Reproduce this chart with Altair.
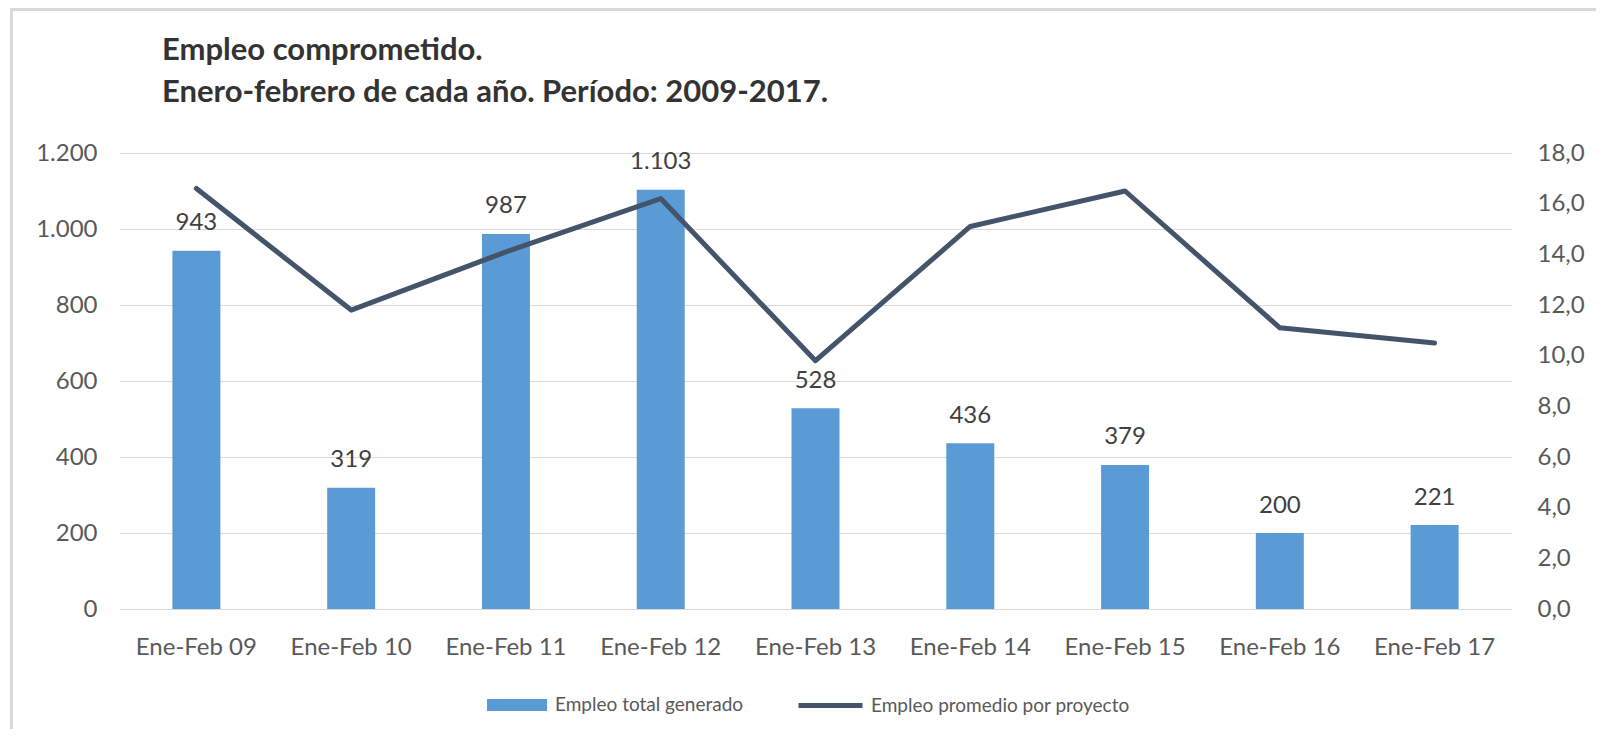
import altair as alt
import pandas as pd

categories = ["Ene-Feb 09", "Ene-Feb 10", "Ene-Feb 11", "Ene-Feb 12", "Ene-Feb 13",
              "Ene-Feb 14", "Ene-Feb 15", "Ene-Feb 16", "Ene-Feb 17"]
empleo_total = [943, 319, 987, 1103, 528, 436, 379, 200, 221]
empleo_promedio = [16.6, 11.8, 14.1, 16.2, 9.8, 15.1, 16.5, 11.1, 10.5]

bar_name = "Empleo total generado"
line_name = "Empleo promedio por proyecto"

df = pd.DataFrame({
    "cat": categories,
    "total": empleo_total,
    "prom": empleo_promedio,
    "s_bar": [bar_name] * len(categories),
    "s_line": [line_name] * len(categories),
})

FONT = "Lato"
W, H = 1393, 456

x_enc = alt.X("cat:N", sort=categories, title=None,
              scale=alt.Scale(paddingInner=0.69, paddingOuter=0.345),
              axis=alt.Axis(labelAngle=0, labelFontSize=24, labelColor="#595959",
                            labelFont=FONT, ticks=False, domain=False, grid=False,
                            labelPadding=26))

base = alt.Chart(df)

y_left = alt.Y("total:Q", title=None,
               scale=alt.Scale(domain=[0, 1200]),
               axis=alt.Axis(values=[0, 200, 400, 600, 800, 1000, 1200], format=",.0f",
                             labelFontSize=24, labelColor="#595959", labelFont=FONT,
                             ticks=False, domain=False, gridColor="#D9D9D9",
                             labelPadding=22))

bars = base.mark_bar(color="#5B9BD5").encode(
    x=x_enc,
    y=y_left,
    fill=alt.Fill("s_bar:N", title=None,
                  scale=alt.Scale(domain=[bar_name], range=["#5B9BD5"]),
                  legend=alt.Legend(orient="none", legendX=368, legendY=522,
                                    symbolType="M-1,-0.2L1,-0.2L1,0.2L-1,0.2Z",
                                    symbolSize=3600, symbolStrokeWidth=0,
                                    labelFontSize=19, labelFont=FONT, labelLimit=400,
                                    labelColor="#595959", labelOffset=8)),
)

labels = base.mark_text(baseline="alphabetic", dy=-20.5, fontSize=24, font=FONT,
                        color="#404040").encode(
    x=alt.X("cat:N", sort=categories),
    y=alt.Y("total:Q"),
    text=alt.Text("total:Q", format=",.0f"),
)

line = base.mark_line(strokeWidth=5, strokeCap="round", strokeJoin="round").encode(
    x=alt.X("cat:N", sort=categories),
    y=alt.Y("prom:Q", title=None,
            scale=alt.Scale(domain=[0, 18]),
            axis=alt.Axis(orient="right", values=list(range(0, 19, 2)), format=".1f",
                          labelFontSize=24, labelColor="#595959", labelFont=FONT,
                          ticks=False, domain=False, grid=False, labelPadding=25)),
    stroke=alt.Stroke("s_line:N", title=None,
                      scale=alt.Scale(domain=[line_name], range=["#44546A"]),
                      legend=alt.Legend(orient="none", legendX=677, legendY=518,
                                        symbolType="stroke", symbolSize=4096,
                                        symbolStrokeWidth=5,
                                        labelFontSize=19, labelFont=FONT, labelLimit=400,
                                        labelColor="#595959", labelOffset=6)),
)

frame_top = alt.Chart(df).mark_rule(color="#D9D9D9", strokeWidth=3, clip=False).encode(
    x=alt.value(-108), x2=alt.value(W + 90), y=alt.value(-143.5))
frame_left = alt.Chart(df).mark_rule(color="#D9D9D9", strokeWidth=3, clip=False).encode(
    x=alt.value(-107.5), y=alt.value(-145), y2=alt.value(H + 125))

chart = alt.layer(alt.layer(bars, labels), line, frame_top, frame_left).resolve_scale(
    y="independent"
).properties(
    width=W, height=H,
    autosize=alt.AutoSizeParams(type="none"),
    padding={"left": 111, "top": 145, "right": 84, "bottom": 120},
    title=alt.Title(["Empleo comprometido.", "Enero-febrero de cada año. Período: 2009-2017."],
                    anchor="start", frame="group", dx=43, offset=0, dy=102, fontSize=31,
                    font=FONT, fontWeight="bold", color="#333333", lineHeight=42),
).configure(
    locale={"number": {"decimal": ",", "thousands": ".", "grouping": [3],
                       "currency": ["", " €"]}}
).configure_view(stroke=None).configure_legend(padding=0)

chart.save("out.html", embed_options={"renderer": "svg", "actions": False})
